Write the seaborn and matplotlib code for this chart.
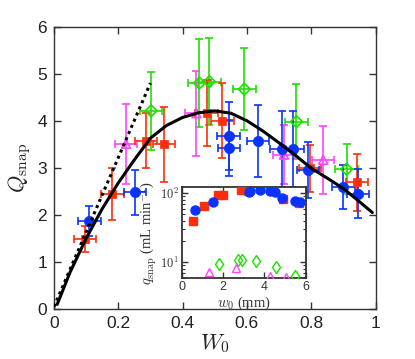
import numpy as np
import pandas as pd
import matplotlib
matplotlib.use("Agg")
import matplotlib.pyplot as plt
import seaborn as sns

# ---------------- data ----------------
# main plot: W0, Q_snap, y-error
blue_W  = [0.110, 0.252, 0.543, 0.545, 0.635, 0.708, 0.744, 0.790, 0.900, 0.946]
blue_Q  = [1.88, 2.48, 3.67, 3.42, 3.57, 3.40, 3.40, 2.95, 2.59, 2.45]
blue_ye = [0.32, 0.48, 0.72, 0.60, 0.76, 0.80, 0.80, 0.60, 0.47, 0.52]

red_W  = [0.096, 0.182, 0.286, 0.342, 0.475, 0.524, 0.796, 0.943]
red_Q  = [1.49, 2.44, 3.58, 3.50, 4.16, 4.00, 2.99, 2.69]
red_ye = [0.28, 0.55, 0.58, 0.80, 0.70, 0.80, 0.50, 0.60]

mag_W  = [0.224, 0.443, 0.715, 0.837]
mag_Q  = [3.51, 4.16, 3.28, 3.17]
mag_ye = [0.85, 0.90, 0.62, 0.72]

grn_W  = [0.302, 0.452, 0.483, 0.592, 0.754, 0.910]
grn_Q  = [4.21, 4.80, 4.83, 4.67, 3.98, 2.97]
grn_ye = [0.83, 0.93, 0.93, 0.87, 0.80, 0.53]

x_err = 0.035

# theory curve and small-W asymptote
curve_W = [0.01, 0.05, 0.10, 0.15, 0.20, 0.25, 0.30, 0.35, 0.40, 0.45, 0.50,
           0.55, 0.60, 0.65, 0.70, 0.75, 0.80, 0.85, 0.90, 0.95, 0.99]
curve_Q = [0.10, 0.78, 1.50, 2.13, 2.68, 3.17, 3.63, 3.90, 4.07, 4.17, 4.21,
           4.16, 4.00, 3.78, 3.53, 3.27, 2.99, 2.78, 2.56, 2.28, 2.05]
asym_W = [0.0, 0.30]
asym_Q = [0.05, 4.80]

# inset: w0 (mm), q_snap (mL/min)
in_blue_w = [0.64, 1.53, 3.26, 3.30, 3.79, 4.27, 4.51, 4.84, 5.48, 5.72]
in_blue_q = [57, 75.5, 103, 106, 112, 109, 105, 84.6, 78, 75]
in_red_w = [0.56, 1.08, 1.77, 2.01, 2.87, 3.19, 4.89, 5.69]
in_red_q = [40, 65.5, 94.5, 94.5, 112, 109, 82, 71.6]
in_mag_w = [1.34, 2.63, 4.27, 5.05]
in_mag_q = [7.2, 8.35, 6.3, 6.2]
in_grn_w = [1.82, 2.74, 2.90, 3.59, 4.56, 5.48]
in_grn_q = [9.35, 10.8, 10.8, 10.4, 8.6, 6.3]

# ---------------- styling ----------------
sns.set_style("ticks")
plt.rcParams['font.family'] = ['Liberation Sans', 'DejaVu Sans']
plt.rcParams['mathtext.fontset'] = 'cm'

BLUE = '#0A33FF'
RED = '#FF2E0A'
GRN = '#1EE000'
MAG = '#FF44FF'
SPINE = '#333333'

fig = plt.figure(figsize=(4.15, 3.59), dpi=100)
ax = fig.add_axes([0.130, 0.139, 0.775, 0.787])


def eb(a, x, y, ye, c, xe=None, lw=1.2, cap=3.2):
    a.errorbar(x, y, yerr=ye, xerr=xe, fmt='none', ecolor=c, elinewidth=lw,
               capsize=cap, capthick=lw, zorder=2)


eb(ax, grn_W, grn_Q, grn_ye, GRN, xe=x_err)
eb(ax, mag_W, mag_Q, mag_ye, MAG, xe=x_err)
eb(ax, red_W, red_Q, red_ye, RED, xe=x_err)
eb(ax, blue_W, blue_Q, blue_ye, BLUE, xe=x_err)

df_b = pd.DataFrame({'W': blue_W, 'Q': blue_Q})
df_r = pd.DataFrame({'W': red_W, 'Q': red_Q})
df_m = pd.DataFrame({'W': mag_W, 'Q': mag_Q})
df_g = pd.DataFrame({'W': grn_W, 'Q': grn_Q})

sns.scatterplot(data=df_g, x='W', y='Q', ax=ax, marker='D', s=36,
                facecolor='none', edgecolor=GRN, linewidth=1.2, zorder=3)
sns.scatterplot(data=df_m, x='W', y='Q', ax=ax, marker='^', s=40,
                facecolor='none', edgecolor=MAG, linewidth=1.2, zorder=3)
sns.scatterplot(data=df_r, x='W', y='Q', ax=ax, marker='s', s=40,
                color=RED, edgecolor=RED, linewidth=0.5, zorder=3)
sns.scatterplot(data=df_b, x='W', y='Q', ax=ax, marker='o', s=55,
                color=BLUE, edgecolor=BLUE, linewidth=0.5, zorder=3)

df_c = pd.DataFrame({'W': curve_W, 'Q': curve_Q})
sns.lineplot(data=df_c, x='W', y='Q', ax=ax, color='black', lw=2.2, zorder=4)
ax.plot(asym_W, asym_Q, color='black', lw=2.2, ls=(0, (1, 1.2)), zorder=4)

ax.set_xlim(0, 1)
ax.set_ylim(0, 6)
ax.set_xticks([0, 0.2, 0.4, 0.6, 0.8, 1])
ax.set_xticklabels(['0', '0.2', '0.4', '0.6', '0.8', '1'])
ax.set_yticks([0, 1, 2, 3, 4, 5, 6])
ax.tick_params(direction='in', length=5, width=1, color=SPINE, top=True,
               right=True, labelsize=12.5, pad=5, labelcolor='#222222')
for s in ax.spines.values():
    s.set_color(SPINE)
    s.set_linewidth(1.0)
ax.set_xlabel(r'$W_0$', fontsize=16, labelpad=1)
ax.set_ylabel(r'$Q_{\rm snap}$', fontsize=16, labelpad=3)

# ---------------- inset ----------------
ai = fig.add_axes([0.438, 0.2256, 0.299, 0.2535])
ai.set_yscale('log')
ai.plot(in_grn_w, in_grn_q, ls='none', marker='d', ms=6.5, mfc='none',
        mec=GRN, mew=1.0, zorder=3)
ai.plot(in_mag_w, in_mag_q, ls='none', marker='^', ms=6, mfc='none',
        mec=MAG, mew=1.0, zorder=3)
ai.plot(in_red_w, in_red_q, ls='none', marker='s', ms=5.5, color=RED,
        zorder=3)
ai.plot(in_blue_w, in_blue_q, ls='none', marker='o', ms=6.5, color=BLUE,
        zorder=4)
ai.set_xlim(0, 6)
ai.set_ylim(5.9, 123)
ai.set_xticks([0, 2, 4, 6])
ai.set_xticklabels(['0', '2', '4', '6'])
ai.set_yticks([10, 100])
ai.set_yticklabels([r'$10^1$', r'$10^2$'])
ai.tick_params(which='both', direction='in', top=True, right=True,
               labelsize=9, color=SPINE, labelcolor='#333333')
ai.tick_params(which='major', length=4, width=1, pad=2)
ai.tick_params(which='minor', length=2, width=0.8)
for s in ai.spines.values():
    s.set_color(SPINE)
    s.set_linewidth(1.3)
ai.set_xlabel(r'$w_0$ (mm)', fontsize=10.5, labelpad=1)
ai.set_ylabel(r'$q_{\rm snap}$ (mL min$^{-1}$)', fontsize=10.5, labelpad=1)
for lab in [ai.xaxis.label, ai.yaxis.label]:
    lab.set_fontfamily(['Liberation Serif', 'DejaVu Serif'])
    lab.set_color('#333333')

fig.savefig('out.png', dpi=100)
